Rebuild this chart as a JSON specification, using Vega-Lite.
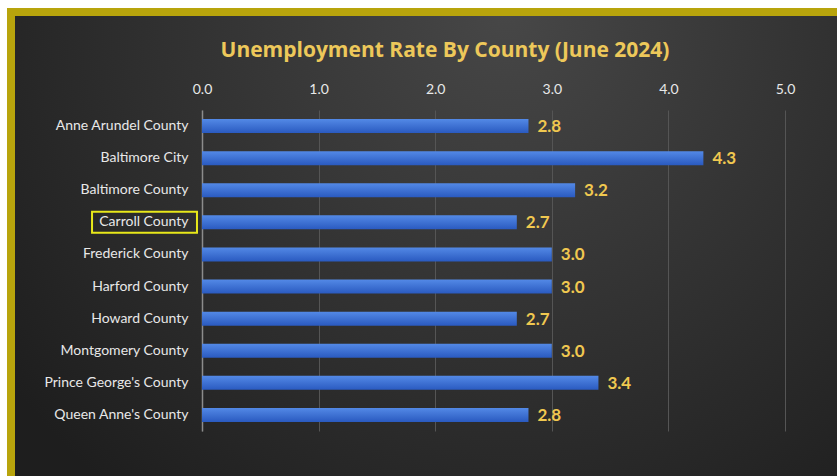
{
  "$schema": "https://vega.github.io/schema/vega-lite/v6.json",
  "autosize": "none",
  "width": 826,
  "height": 464,
  "padding": {"left": 11, "top": 12, "right": 0, "bottom": 0},
  "background": "white",
  "title": {
    "text": "Unemployment Rate By County (June 2024)",
    "font": "Open Sans",
    "fontSize": 21,
    "fontWeight": "bold",
    "color": "#EDC85A",
    "anchor": "middle",
    "dx": 21,
    "offset": -66,
    "baseline": "alphabetic"
  },
  "config": {
    "view": {
      "fill": {
        "gradient": "radial",
        "x1": 0.6, "y1": 0.22, "r1": 0,
        "x2": 0.6, "y2": 0.22, "r2": 0.75,
        "stops": [
          {"offset": 0, "color": "#474747"},
          {"offset": 1, "color": "#1e1e1e"}
        ]
      },
      "stroke": "#B8A40C",
      "strokeWidth": 8,
      "strokeDash": [826, 1290, 464]
    },
    "font": "Lato"
  },
  "data": {
    "values": [
      {"county": "Anne Arundel County", "rate": 2.8},
      {"county": "Baltimore City", "rate": 4.3},
      {"county": "Baltimore County", "rate": 3.2},
      {"county": "Carroll County", "rate": 2.7},
      {"county": "Frederick County", "rate": 3.0},
      {"county": "Harford County", "rate": 3.0},
      {"county": "Howard County", "rate": 2.7},
      {"county": "Montgomery County", "rate": 3.0},
      {"county": "Prince George's County", "rate": 3.4},
      {"county": "Queen Anne's County", "rate": 2.8}
    ]
  },
  "encoding": {
    "y": {
      "field": "county",
      "type": "nominal",
      "sort": null,
      "scale": {"range": [98, 419], "paddingInner": 0.5, "paddingOuter": 0.25},
      "axis": {
        "title": null,
        "orient": "left",
        "offset": -191,
        "domainColor": "#8c8c8c",
        "domainWidth": 1.5,
        "ticks": false,
        "labelPadding": 14,
        "labelFont": "Lato",
        "labelFontSize": 14,
        "labelColor": "#e8e8e8",
        "grid": false
      }
    }
  },
  "layer": [
    {
      "mark": {
        "type": "bar",
        "height": 14,
        "fill": {
          "gradient": "linear",
          "x1": 0, "y1": 0, "x2": 0, "y2": 1,
          "stops": [
            {"offset": 0, "color": "#5389e6"},
            {"offset": 1, "color": "#2a5ac0"}
          ]
        }
      },
      "encoding": {
        "x": {
          "field": "rate",
          "type": "quantitative",
          "scale": {"domain": [-1.638, 5.446], "nice": false, "zero": false},
          "axis": {
            "title": null,
            "orient": "top",
            "offset": -98,
            "values": [0, 1, 2, 3, 4, 5],
            "format": ".1f",
            "domain": false,
            "ticks": false,
            "labelPadding": 14,
            "labelFont": "Lato",
            "labelFontSize": 14,
            "labelColor": "#e8e8e8",
            "grid": true,
            "gridColor": "#555555",
            "gridWidth": 1
          }
        }
      }
    },
    {
      "mark": {
        "type": "text",
        "align": "left",
        "baseline": "middle",
        "dx": 9,
        "dy": 1,
        "font": "Lato",
        "fontSize": 17,
        "fontWeight": "bold",
        "color": "#F0C850"
      },
      "encoding": {
        "x": {"field": "rate", "type": "quantitative"},
        "text": {"field": "rate", "type": "quantitative", "format": ".1f"}
      }
    },
    {
      "transform": [{"filter": "datum.county === 'Carroll County'"}],
      "mark": {
        "type": "bar",
        "height": 21,
        "fill": null,
        "fillOpacity": 0,
        "stroke": "#E8E81A",
        "strokeWidth": 2
      },
      "encoding": {
        "x": {"datum": -0.943, "type": "quantitative"},
        "x2": {"datum": -0.043}
      }
    }
  ]
}
